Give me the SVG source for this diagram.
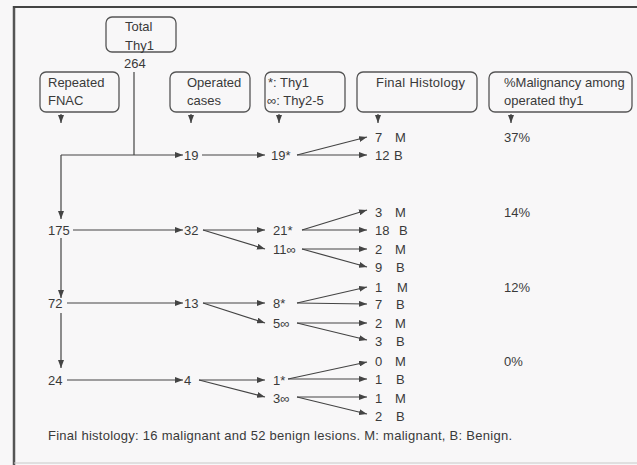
<svg xmlns="http://www.w3.org/2000/svg" width="637" height="465" viewBox="0 0 637 465">
<defs>
<marker id="ah" markerUnits="userSpaceOnUse" markerWidth="8" markerHeight="6" refX="8" refY="3" orient="auto">
<path d="M0,0 L8,3 L0,6 z" fill="#444"/>
</marker>
<style>
text{font-family:"Liberation Sans",Arial,sans-serif;font-size:13px;fill:#3a3a3a}
.box{fill:none;stroke:#555;stroke-width:1.3}
.c line,.c path{stroke:#444;stroke-width:1.2;fill:none}
.a{marker-end:url(#ah)}
</style>
</defs>
<rect x="0" y="0" width="637" height="465" fill="#f8f7f8"/>
<line x1="14" y1="6" x2="14" y2="465" stroke="#555" stroke-width="2.5"/>
<line x1="13" y1="7" x2="637" y2="7" stroke="#444" stroke-width="2"/>
<line x1="14" y1="463" x2="637" y2="463" stroke="#c8c8c8" stroke-width="1"/>

<g id="total">
<rect class="box" x="106" y="17" width="70" height="35" rx="6"/>
<text x="125" y="31">Total</text>
<text x="125" y="50">Thy1</text>
<text x="124" y="68">264</text>
</g>
<g id="repeated">
<rect class="box" x="40" y="72" width="79" height="40" rx="6"/>
<text x="48" y="87">Repeated</text>
<text x="48" y="105">FNAC</text>
</g>
<g id="operated">
<rect class="box" x="170" y="72" width="80" height="40" rx="6"/>
<text x="187" y="87">Operated</text>
<text x="187" y="105">cases</text>
</g>
<g id="legend">
<rect class="box" x="265" y="72" width="80" height="40" rx="6"/>
<text x="268" y="87">*: Thy1</text>
<text x="267" y="105">∞: Thy2-5</text>
</g>
<g id="final">
<rect class="box" x="357" y="72" width="120" height="40" rx="6"/>
<text x="376" y="87" textLength="89">Final Histology</text>
</g>
<g id="pct">
<rect class="box" x="489" y="72" width="143" height="40" rx="6"/>
<text x="504" y="87">%Malignancy among</text>
<text x="504" y="105">operated thy1</text>
</g>

<g id="n175"><text x="48" y="235">175</text></g>
<g id="n72"><text x="48" y="308">72</text></g>
<g id="n24"><text x="48" y="385">24</text></g>

<g id="col2">
<text x="184" y="160">19</text>
<text x="184" y="235">32</text>
<text x="184" y="308">13</text>
<text x="184" y="385">4</text>
</g>
<g id="col3">
<text x="271" y="160">19*</text>
<text x="273" y="235">21*</text>
<text x="273" y="254">11∞</text>
<text x="273" y="308">8*</text>
<text x="273" y="328">5∞</text>
<text x="273" y="385">1*</text>
<text x="273" y="403">3∞</text>
</g>
<g id="histology">
<text x="375" y="142">7<tspan x="395">M</tspan></text>
<text x="375" y="160">12<tspan x="394">B</tspan></text>
<text x="375" y="217">3<tspan x="395">M</tspan></text>
<text x="375" y="235">18<tspan x="399">B</tspan></text>
<text x="375" y="254">2<tspan x="395">M</tspan></text>
<text x="375" y="272">9<tspan x="396">B</tspan></text>
<text x="375" y="292">1<tspan x="397">M</tspan></text>
<text x="375" y="309">7<tspan x="396">B</tspan></text>
<text x="375" y="328">2<tspan x="395">M</tspan></text>
<text x="375" y="346">3<tspan x="396">B</tspan></text>
<text x="375" y="366">0<tspan x="395">M</tspan></text>
<text x="375" y="384">1<tspan x="396">B</tspan></text>
<text x="375" y="403">1<tspan x="395">M</tspan></text>
<text x="375" y="421">2<tspan x="396">B</tspan></text>
</g>
<g id="percent">
<text x="504" y="142">37%</text>
<text x="504" y="217">14%</text>
<text x="504" y="292">12%</text>
<text x="504" y="366">0%</text>
</g>
<g id="footer">
<text x="48" y="440" textLength="464">Final histology: 16 malignant and 52 benign lesions. M: malignant, B: Benign.</text>
</g>

<g id="connectors" class="c">
<line class="a" x1="61" y1="114" x2="61" y2="123"/>
<line class="a" x1="191" y1="114" x2="191" y2="123"/>
<line class="a" x1="279" y1="114" x2="279" y2="123"/>
<line class="a" x1="378" y1="114" x2="378" y2="123"/>
<line class="a" x1="511" y1="114" x2="511" y2="123"/>

<line x1="134" y1="72" x2="134" y2="155"/>
<line class="a" x1="61" y1="155" x2="183" y2="155"/>
<line class="a" x1="61" y1="155" x2="61" y2="219"/>
<line class="a" x1="61" y1="238" x2="61" y2="298"/>
<line class="a" x1="61" y1="313" x2="61" y2="368"/>

<line class="a" x1="73" y1="230" x2="183" y2="230"/>
<line class="a" x1="67" y1="303" x2="183" y2="303"/>
<line class="a" x1="67" y1="380" x2="183" y2="380"/>

<line class="a" x1="202" y1="155" x2="265" y2="155"/>
<line class="a" x1="203" y1="230" x2="265" y2="230"/>
<line class="a" x1="203" y1="230" x2="265" y2="249"/>
<line class="a" x1="203" y1="303" x2="265" y2="303"/>
<line class="a" x1="203" y1="303" x2="265" y2="323"/>
<line class="a" x1="199" y1="380" x2="265" y2="380"/>
<line class="a" x1="199" y1="380" x2="265" y2="397"/>

<line class="a" x1="297" y1="155" x2="367" y2="137"/>
<line class="a" x1="297" y1="155" x2="367" y2="155"/>
<line class="a" x1="302" y1="230" x2="367" y2="210"/>
<line class="a" x1="302" y1="230" x2="367" y2="230"/>
<line class="a" x1="302" y1="249" x2="367" y2="249"/>
<line class="a" x1="302" y1="249" x2="367" y2="267"/>
<line class="a" x1="297" y1="303" x2="367" y2="287"/>
<line class="a" x1="297" y1="303" x2="367" y2="304"/>
<line class="a" x1="297" y1="323" x2="367" y2="323"/>
<line class="a" x1="297" y1="323" x2="367" y2="340"/>
<line class="a" x1="288" y1="379" x2="367" y2="362"/>
<line class="a" x1="288" y1="379" x2="367" y2="379"/>
<line class="a" x1="297" y1="397" x2="367" y2="397"/>
<line class="a" x1="297" y1="397" x2="367" y2="414"/>
</g>
</svg>
